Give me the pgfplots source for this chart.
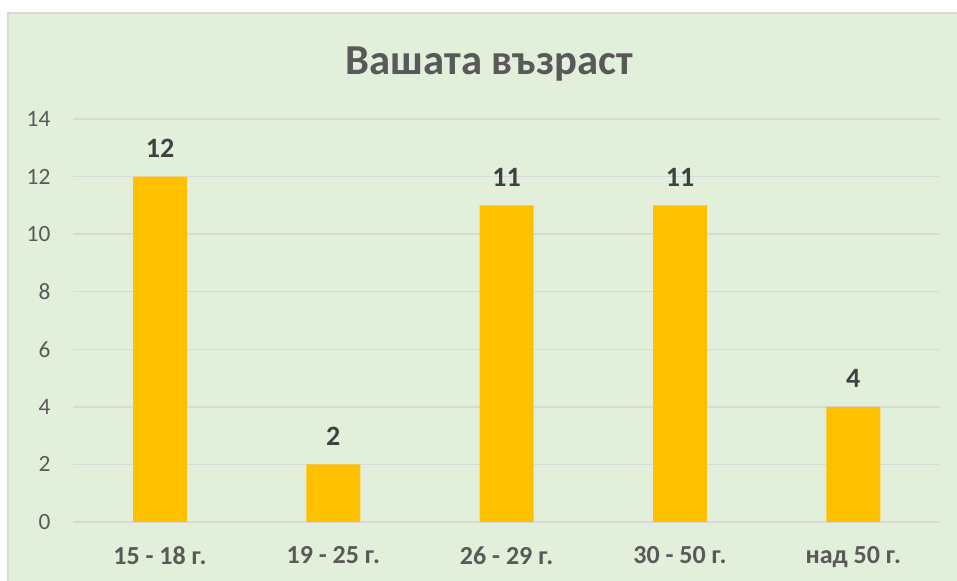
\documentclass[border=0pt]{standalone}
\usepackage{fontspec}
\setmainfont{Carlito}
\usepackage{pgfplots}
\pgfplotsset{compat=1.18}
\definecolor{bg}{HTML}{E2EFDA}
\definecolor{bar}{HTML}{FFC000}
\definecolor{grid}{HTML}{D9D9D9}
\definecolor{tick}{HTML}{595959}
\definecolor{lab}{HTML}{404040}
\definecolor{frame}{HTML}{D9D9D9}
\begin{document}
\begin{tikzpicture}
\useasboundingbox (0,0) rectangle (717.75pt,435.75pt);
\fill[white] (0,0) rectangle (717.75pt,435.75pt);
\filldraw[fill=bg,draw=frame,line width=1.2pt] (6pt,-5pt) rectangle (725pt,426pt);
\node[font=\fontsize{32}{36}\selectfont\bfseries,text=tick] at (367pt,388pt) {Вашата възраст};
\begin{axis}[
  at={(55pt,44.25pt)}, anchor=south west,
  scale only axis, width=650pt, height=302.25pt,
  xmin=-0.5, xmax=4.5, ymin=0, ymax=14,
  ytick={0,2,4,6,8,10,12,14},
  yticklabels={0,2,4,6,8,10,12,14},
  xtick={0,1,2,3,4},
  xticklabels={15 - 18 г.,19 - 25 г.,26 - 29 г.,30 - 50 г.,над 50 г.},
  axis line style={draw=none},
  major tick length=0pt,
  ymajorgrids, grid style={color=grid,line width=1.1pt},
  yticklabel style={font=\fontsize{17.5}{20}\selectfont, text=tick, inner sep=0pt, anchor=east, xshift=-17pt},
  xticklabel style={font=\fontsize{19.5}{22}\selectfont\bfseries, text=tick, inner sep=0pt, anchor=north, yshift=-18pt},
  nodes near coords,
  nodes near coords style={font=\fontsize{21}{24}\selectfont\bfseries, text=lab, inner sep=0pt, anchor=south, yshift=14pt},
  every node near coord/.append style={/pgf/number format/assume math mode=true},
]
\addplot[ybar, bar width=40.5pt, fill=bar, draw=none] coordinates {(0,12) (1,2) (2,11) (3,11) (4,4)};
\end{axis}
\end{tikzpicture}
\end{document}
